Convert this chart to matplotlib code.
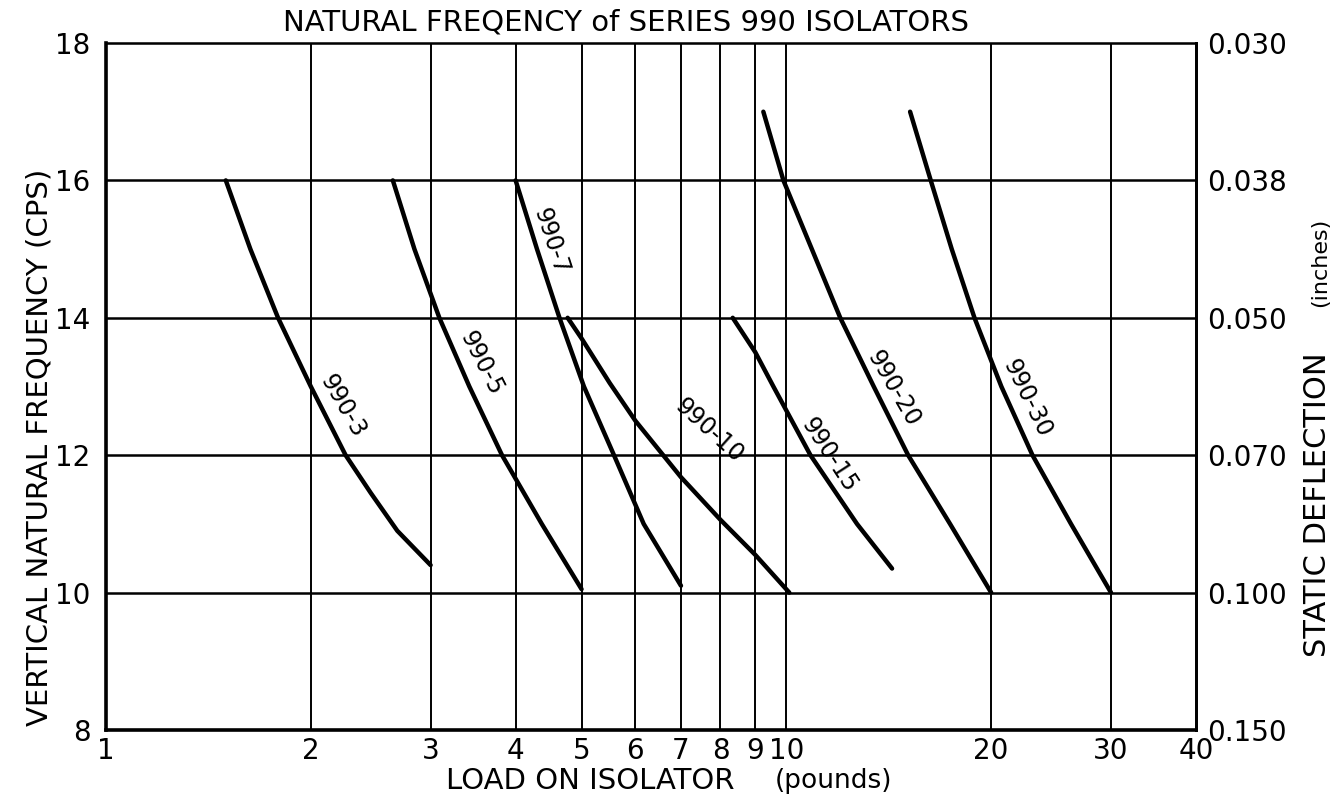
import matplotlib.pyplot as plt
from matplotlib.ticker import FixedLocator, NullLocator

# load (pounds) vs natural frequency (cps)
x_990_3 = [1.5, 1.63, 1.79, 2.0, 2.25, 2.45, 2.68, 3.0]
y_990_3 = [16, 15, 14, 13, 12, 11.45, 10.9, 10.4]

x_990_5 = [2.64, 2.84, 3.09, 3.42, 3.82, 4.37, 5.0]
y_990_5 = [16, 15, 14, 13, 12, 11, 10.05]

x_990_7 = [4.0, 4.30, 4.64, 5.04, 5.58, 6.17, 7.0]
y_990_7 = [16, 15, 14, 13, 12, 11, 10.1]

x_990_10 = [4.77, 5.0, 5.5, 6.0, 7.0, 8.0, 9.0, 10.1]
y_990_10 = [14.0, 13.7, 13.05, 12.5, 11.68, 11.06, 10.55, 10.0]

x_990_15 = [8.34, 9.0, 9.57, 10.85, 12.7, 14.3]
y_990_15 = [14, 13.5, 13, 12, 11, 10.35]

x_990_20 = [9.25, 9.9, 10.9, 12.0, 13.44, 15.1, 17.4, 20.0]
y_990_20 = [17, 16, 15, 14, 13, 12, 11, 10]

x_990_30 = [15.2, 16.3, 17.5, 18.9, 20.7, 23.0, 26.2, 30.0]
y_990_30 = [17, 16, 15, 14, 13, 12, 11, 10]

curve_names = ["990-3", "990-5", "990-7", "990-10", "990-15", "990-20", "990-30"]
curve_x = [x_990_3, x_990_5, x_990_7, x_990_10, x_990_15, x_990_20, x_990_30]
curve_y = [y_990_3, y_990_5, y_990_7, y_990_10, y_990_15, y_990_20, y_990_30]

# label spots along each curve
label_x = [2.23, 3.56, 4.51, 7.7, 11.56, 14.35, 22.6]
label_y = [12.71, 13.34, 15.11, 12.35, 12.0, 12.97, 12.83]
label_rot = [-60, -63, -72, -42, -57, -60, -64]

load_ticks = [1, 2, 3, 4, 5, 6, 7, 8, 9, 10, 20, 30, 40]
load_labels = ["1", "2", "3", "4", "5", "6", "7", "8", "9", "10", "20", "30", "40"]
freq_ticks = [8, 10, 12, 14, 16, 18]
deflection_labels = ["0.150", "0.100", "0.070", "0.050", "0.038", "0.030"]

plt.rcParams["font.family"] = "DejaVu Sans"

fig = plt.figure(figsize=(13.43, 8.01), dpi=100)
ax = fig.add_axes([106 / 1343, 1 - 730 / 801, 1090 / 1343, 687 / 801])

ax.set_xscale("log")
ax.set_xlim(1, 40)
ax.set_ylim(8, 18)

# grid
for v in load_ticks[1:-1]:
    ax.axvline(v, color="black", lw=1.4, zorder=1)
for v in freq_ticks[1:-1]:
    ax.axhline(v, color="black", lw=1.8, zorder=1)

for xs, ys in zip(curve_x, curve_y):
    ax.plot(xs, ys, color="black", lw=3.2, solid_capstyle="round",
            solid_joinstyle="round", zorder=3)

for name, lx, ly, rot in zip(curve_names, label_x, label_y, label_rot):
    ax.text(lx, ly, name, rotation=rot, fontsize=17, ha="center", va="center",
            rotation_mode="anchor", zorder=4)

ax.xaxis.set_major_locator(FixedLocator(load_ticks))
ax.xaxis.set_minor_locator(NullLocator())
ax.set_xticklabels(load_labels)
ax.set_yticks(freq_ticks)
ax.tick_params(axis="both", length=0, labelsize=20)
ax.tick_params(axis="x", pad=5)
ax.tick_params(axis="y", pad=11)

ax.spines["left"].set_linewidth(2.6)
ax.spines["bottom"].set_linewidth(2.6)
ax.spines["right"].set_linewidth(2.0)
ax.spines["top"].set_linewidth(1.8)

ax2 = ax.twinx()
ax2.set_ylim(8, 18)
ax2.set_yticks(freq_ticks)
ax2.set_yticklabels(deflection_labels)
ax2.tick_params(axis="y", length=0, labelsize=20, pad=8)
ax2.spines["right"].set_linewidth(2.0)

fig.text(0.466, 1 - 22 / 801, "NATURAL FREQENCY of SERIES 990 ISOLATORS",
         fontsize=21, ha="center", va="center")
fig.text(446 / 1343, 1 - 781 / 801, "LOAD ON ISOLATOR", fontsize=21,
         ha="left", va="center")
fig.text(775 / 1343, 1 - 781 / 801, "(pounds)", fontsize=19,
         ha="left", va="center")
fig.text(40 / 1343, 1 - 447 / 801, "VERTICAL NATURAL FREQUENCY (CPS)",
         fontsize=21, rotation=90, ha="center", va="center")
fig.text(1318 / 1343, 1 - 505 / 801, "STATIC DEFLECTION", fontsize=22,
         rotation=90, ha="center", va="center")
fig.text(1320 / 1343, 1 - 262 / 801, "(inches)", fontsize=16,
         rotation=90, ha="center", va="center")

fig.savefig("out.png", dpi=100)
plt.close(fig)
